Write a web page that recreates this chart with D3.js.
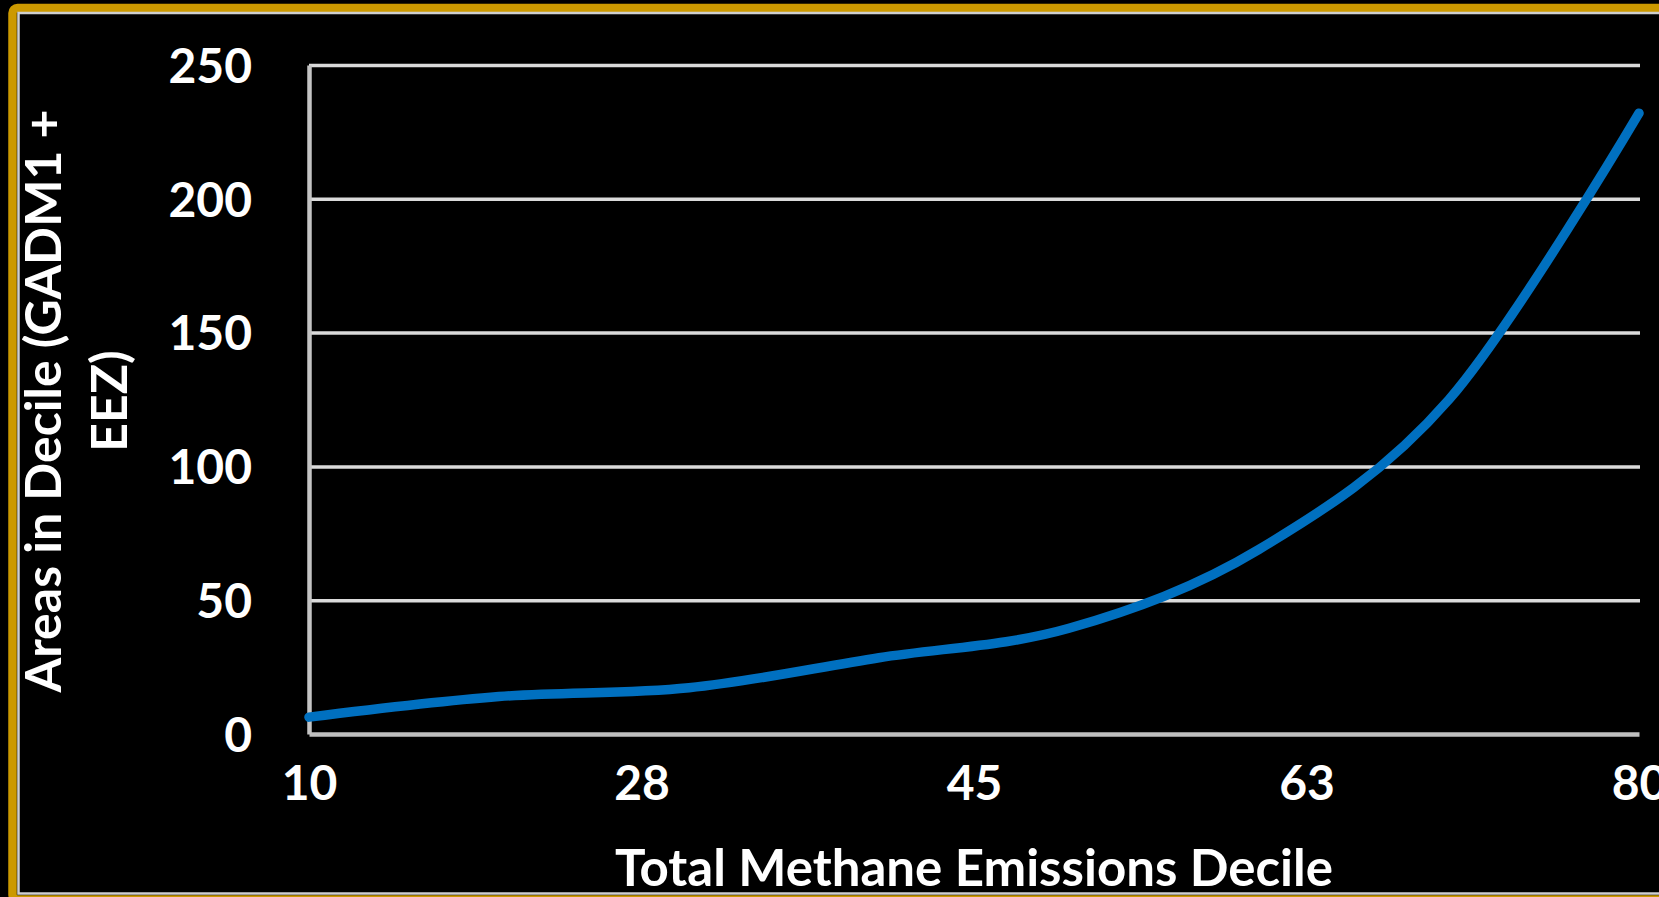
<!DOCTYPE html>
<html>
<head>
<meta charset="utf-8">
<script src="https://cdn.jsdelivr.net/npm/d3@7/dist/d3.min.js"></script>
<style>
  html, body { margin: 0; padding: 0; background: #000; }
  svg { display: block; }
  text { font-family: "Lato", "Open Sans", sans-serif; font-weight: 700; fill: #ffffff; }
</style>
</head>
<body>
<svg id="chart" width="1659" height="897"></svg>
<script>
// Decile positions along the x axis and the number of areas in each
const deciles = [10, 20, 30, 40, 50, 60, 70, 80];
const areaCounts = [6.3, 14, 17.3, 28.5, 39.5, 69, 125, 232];

// Axis ticks and their printed labels
const xTickValues = [10, 27.5, 45, 62.5, 80];
const xTickLabels = ["10", "28", "45", "63", "80"];
const yTickValues = [0, 50, 100, 150, 200, 250];

const xTitle = "Total Methane Emissions Decile";
const yTitleLines = ["Areas in Decile (GADM1 +", "EEZ)"];

(function draw() {
  const svg = d3.select("#chart");
  const W = 1659, H = 897;

  // Slide frame: black ground, gold border with a thin light inner rule
  svg.append("rect").attr("width", W).attr("height", H).attr("fill", "#000");
  svg.append("rect")
    .attr("x", 12.5).attr("y", 8).attr("width", W + 40).attr("height", 891.5)
    .attr("rx", 5)
    .attr("fill", "#000").attr("stroke", "#cc9900").attr("stroke-width", 8.5);
  svg.append("rect")
    .attr("x", 18.5).attr("y", 13).attr("width", W + 40).attr("height", 880.5)
    .attr("fill", "none").attr("stroke", "#cfcfcf").attr("stroke-width", 2.5);

  // Plot area
  const pl = 309, pr = 1639, pt = 65, pb = 734;

  const x = d3.scaleLinear().domain([10, 80]).range([pl, pr]);
  const y = d3.scaleLinear().domain([0, 250]).range([pb, pt]);

  // Horizontal gridlines
  const grid = svg.append("g")
    .attr("transform", `translate(${pl},0)`)
    .call(d3.axisLeft(y).tickValues(yTickValues.filter(v => v > 0))
      .tickSize(-(pr + 1 - pl)).tickFormat(""));
  grid.select(".domain").remove();
  grid.selectAll(".tick line").attr("stroke", "#dadada").attr("stroke-width", 3.5);

  // Y axis with labels
  const yAxis = svg.append("g")
    .attr("transform", `translate(${pl},0)`)
    .call(d3.axisLeft(y).tickValues(yTickValues).tickSize(0).tickPadding(57));
  yAxis.select(".domain").attr("stroke", "#c4c4c4").attr("stroke-width", 4.5);
  yAxis.selectAll(".tick text")
    .attr("font-size", 48).attr("dy", "0.36em")
    .style("font-family", "Lato, 'Open Sans', sans-serif").style("font-weight", 700).attr("fill", "#fff");

  // X axis with labels
  const xAxis = svg.append("g")
    .attr("transform", `translate(0,${pb})`)
    .call(d3.axisBottom(x).tickValues(xTickValues).tickSize(0)
      .tickFormat((d, i) => xTickLabels[i]));
  xAxis.select(".domain").attr("stroke", "#bfbfbf").attr("stroke-width", 4.5);
  xAxis.selectAll(".tick text")
    .attr("font-size", 48).attr("y", 66).attr("dy", 0)
    .style("font-family", "Lato, 'Open Sans', sans-serif").style("font-weight", 700).attr("fill", "#fff");

  // Axis titles
  svg.append("text")
    .attr("x", (pl + pr) / 2).attr("y", 886)
    .attr("text-anchor", "middle").attr("font-size", 51)
    .text(xTitle);

  const yTitle = svg.append("text")
    .attr("transform", "translate(61,401) rotate(-90)")
    .attr("text-anchor", "middle").attr("font-size", 50);
  yTitle.selectAll("tspan").data(yTitleLines).join("tspan")
    .attr("x", 0).attr("y", (d, i) => i * 66)
    .text(d => d);

  // Smoothed series line
  const line = d3.line()
    .x((d, i) => x(deciles[i]))
    .y(d => y(d))
    .curve(d3.curveCardinal.tension(0));

  svg.append("path")
    .datum(areaCounts)
    .attr("d", line)
    .attr("fill", "none")
    .attr("stroke", "#0070c0")
    .attr("stroke-width", 9.5)
    .attr("stroke-linecap", "round")
    .attr("stroke-linejoin", "round");
})();
</script>
</body>
</html>
